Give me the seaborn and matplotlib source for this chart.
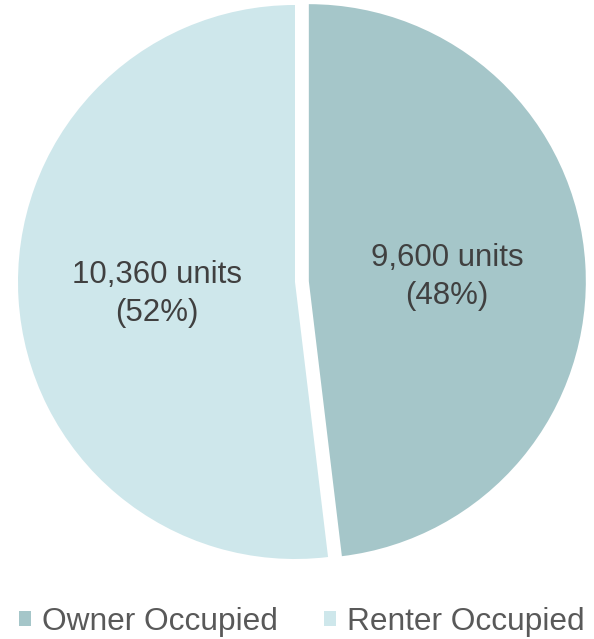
import matplotlib
matplotlib.use("Agg")
import matplotlib.pyplot as plt
import matplotlib.transforms as mtransforms
import seaborn as sns
from matplotlib.patches import Patch

categories = ["Owner Occupied", "Renter Occupied"]
units = [9600, 10360]
colors = ["#A5C6C9", "#CEE7EB"]

sns.set_theme(style="white")
plt.rcParams['font.family'] = ['Liberation Sans', 'DejaVu Sans']

fig = plt.figure(figsize=(5.94, 6.39), dpi=100)
ax = fig.add_axes([(295 - 277) / 594, (639 - 282 - 277) / 639, 554 / 594, 554 / 639])

total = sum(units)

def fmt(p):
    v = int(round(p * total / 100.0))
    return f"{v:,} units\n({p:.0f}%)"

wedges, texts, autotexts = ax.pie(
    units, colors=colors, startangle=90, counterclock=False,
    explode=[0.05, 0], autopct=fmt, pctdistance=0.5,
    textprops=dict(color="#404040", fontsize=22.5),
    wedgeprops=dict(linewidth=0),
)
for t in autotexts:
    t.set_linespacing(1.33)
    t.set_transform(mtransforms.offset_copy(ax.transData, fig=fig, x=0, y=-4, units="dots"))
ax.set_xlim(-1, 1)
ax.set_ylim(-1, 1)
ax.set_aspect("auto")
ax.axis("off")

handles = [Patch(facecolor=c, edgecolor="none") for c in colors]
fig.legend(handles, categories, loc="center", bbox_to_anchor=(302 / 594, 1 - 622 / 639),
           ncol=2, frameon=False, fontsize=22.8, handlelength=0.37, handleheight=0.37,
           handletextpad=0.35, columnspacing=1.45, labelcolor="#595959",
           borderpad=0, borderaxespad=0)

fig.savefig("out.png", dpi=100)
